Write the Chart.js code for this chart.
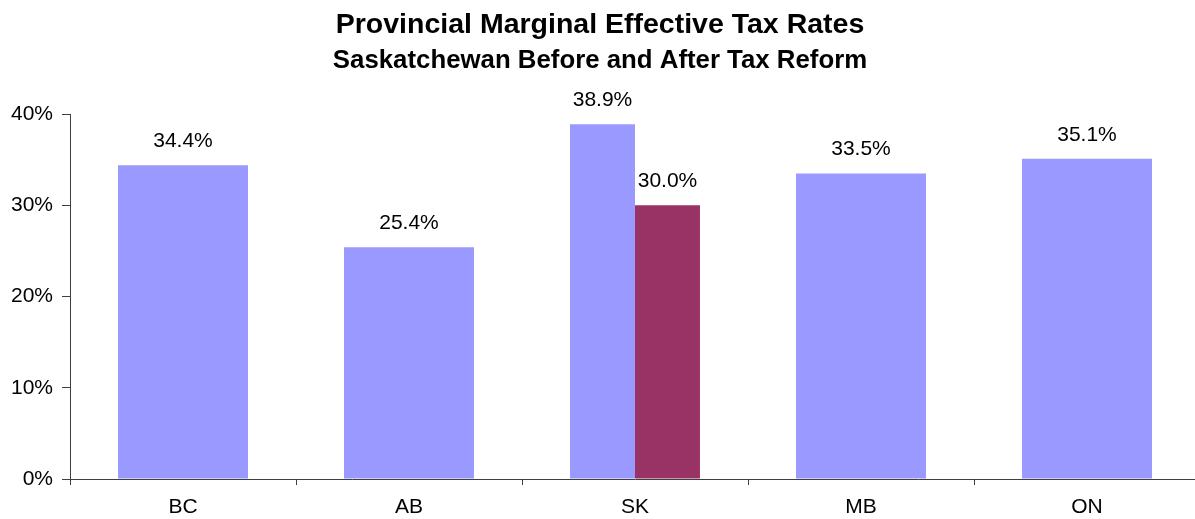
<!DOCTYPE html>
<html>
<head>
<meta charset="utf-8">
<title>Provincial Marginal Effective Tax Rates</title>
<script src="https://cdn.jsdelivr.net/npm/chart.js@4/dist/chart.umd.min.js"></script>
<style>
    html, body { margin: 0; padding: 0; background: #fff; overflow: hidden; }
    #wrap { position: relative; width: 1200px; height: 519px; }
</style>
</head>
<body>
<div id="wrap"><canvas id="metr"></canvas></div>
<script>
(function () {
    "use strict";

    const provinces = ["BC", "AB", "SK", "MB", "ON"];
    const beforeReform = [34.4, 25.4, 38.9, 33.5, 35.1];
    const afterReform = [null, null, 30.0, null, null];
    const yTicks = [0, 10, 20, 30, 40];

    const FONT = "Arial, 'Liberation Sans', sans-serif";
    const AXIS = "#404040";

    // value labels above each bar
    const barLabels = {
        id: "barLabels",
        afterDatasetsDraw(chart) {
            const ctx = chart.ctx;
            ctx.save();
            ctx.font = "21px " + FONT;
            ctx.fillStyle = "#000";
            ctx.textAlign = "center";
            ctx.textBaseline = "alphabetic";
            chart.data.datasets.forEach(function (ds, i) {
                const meta = chart.getDatasetMeta(i);
                meta.data.forEach(function (bar, j) {
                    const v = ds.data[j];
                    if (v === null || v === undefined) return;
                    ctx.fillText(v.toFixed(1) + "%", bar.x, bar.y - 18);
                });
            });
            ctx.restore();
        },
    };

    new Chart(document.getElementById("metr").getContext("2d"), {
        type: "bar",
        data: {
            labels: provinces,
            datasets: [
                {
                    label: "Before",
                    data: beforeReform,
                    backgroundColor: "#9999ff",
                    borderWidth: 0,
                },
                {
                    label: "After",
                    data: afterReform,
                    backgroundColor: "#993366",
                    borderWidth: 0,
                },
            ],
        },
        options: {
            responsive: true,
            maintainAspectRatio: false,
            animation: false,
            skipNull: true,
            categoryPercentage: 0.575,
            barPercentage: 1.0,
            layout: { padding: { left: 0, right: 0, top: 0, bottom: 0 } },
            plugins: {
                legend: { display: false },
                tooltip: { enabled: false },
                title: {
                    display: true,
                    text: "Provincial Marginal Effective Tax Rates",
                    color: "#000",
                    font: { family: FONT, size: 28.5, weight: "bold", lineHeight: 1.2 },
                    padding: { top: 8, bottom: 0 },
                },
                subtitle: {
                    display: true,
                    text: "Saskatchewan Before and After Tax Reform",
                    color: "#000",
                    font: { family: FONT, size: 25.8, weight: "bold", lineHeight: 1.2 },
                    padding: { top: 3.6, bottom: 37.4 },
                },
            },
            scales: {
                x: {
                    grid: {
                        display: true,
                        offset: true,
                        drawOnChartArea: false,
                        drawTicks: true,
                        tickLength: 6,
                        color: AXIS,
                    },
                    border: { display: true, color: AXIS, width: 1 },
                    ticks: {
                        color: "#000",
                        padding: 10,
                        font: { family: FONT, size: 21 },
                    },
                    afterFit: function (scale) { scale.height = 40; },
                },
                y: {
                    min: 0,
                    max: 40,
                    afterBuildTicks: function (scale) {
                        scale.ticks = yTicks.map(function (v) { return { value: v }; });
                    },
                    grid: {
                        display: true,
                        drawOnChartArea: false,
                        drawTicks: true,
                        tickLength: 8,
                        color: AXIS,
                    },
                    border: { display: true, color: AXIS, width: 1 },
                    ticks: {
                        color: "#000",
                        padding: 9,
                        font: { family: FONT, size: 21 },
                        callback: function (v) { return v + "%"; },
                    },
                    afterFit: function (scale) { scale.width = 70; },
                },
            },
        },
        plugins: [barLabels],
    });
})();
</script>
</body>
</html>
